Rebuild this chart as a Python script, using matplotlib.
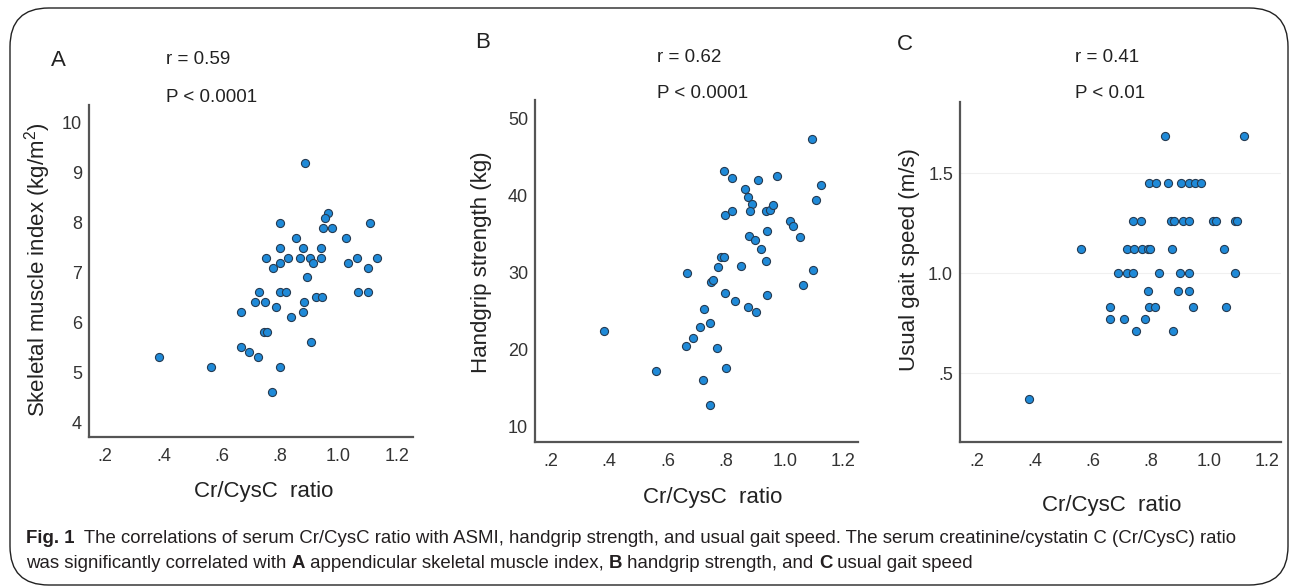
import matplotlib
matplotlib.use("Agg")
import matplotlib.pyplot as plt
from matplotlib.patches import FancyBboxPatch

W, H = 1292, 588

# ---- data ----
ratio_a = [0.884, 0.798, 0.964, 0.953, 0.945, 0.979, 1.108, 0.855, 1.027, 0.798,
           0.879, 0.941, 0.750, 0.775, 0.801, 0.826, 0.868, 0.902, 0.912, 0.941,
           1.034, 1.062, 1.101, 1.130, 0.893,
           0.727, 0.801, 0.820, 1.068, 1.101, 0.712, 0.747, 0.881, 0.924, 0.942,
           0.784, 0.667, 0.879, 0.836, 0.744, 0.756, 0.907, 0.667, 0.692, 0.725,
           0.385, 0.563, 0.799, 0.773]
smi = [9.2, 8.0, 8.2, 8.1, 7.9, 7.9, 8.0, 7.7, 7.7, 7.5,
       7.5, 7.5, 7.3, 7.1, 7.2, 7.3, 7.3, 7.3, 7.2, 7.3,
       7.2, 7.3, 7.1, 7.3, 6.9,
       6.6, 6.6, 6.6, 6.6, 6.6, 6.4, 6.4, 6.4, 6.5, 6.5,
       6.3, 6.2, 6.2, 6.1, 5.8, 5.8, 5.6, 5.5, 5.4, 5.3,
       5.3, 5.1, 5.1, 4.6]

ratio_b = [1.095, 0.791, 0.821, 0.908, 0.975, 1.124, 0.863, 0.875, 1.106, 0.888,
           0.797, 0.819, 0.881, 0.935, 0.949, 0.959, 1.019, 1.029, 1.054, 0.938,
           0.879, 0.898, 0.920, 0.782, 0.792, 0.936, 0.773, 0.851, 0.665, 1.098,
           0.747, 0.754, 1.063, 0.795, 0.939, 0.831, 0.875, 0.903, 0.723, 0.743,
           0.710, 0.687, 0.663, 0.768, 0.381, 0.560, 0.798, 0.722, 0.743]
grip = [47.4, 43.2, 42.3, 42.0, 42.6, 41.4, 40.8, 39.8, 39.4, 38.9,
        37.5, 38.0, 38.0, 38.0, 38.2, 38.8, 36.7, 36.1, 34.6, 35.4,
        34.8, 34.3, 33.1, 32.1, 32.1, 31.5, 30.8, 30.9, 30.0, 30.3,
        28.8, 29.0, 28.4, 27.4, 27.1, 26.3, 25.5, 24.9, 25.3, 23.5,
        22.9, 21.5, 20.5, 20.3, 22.5, 17.3, 17.6, 16.1, 12.9]

ratio_c = [0.847, 1.119,
           0.793, 0.818, 0.858, 0.902, 0.931, 0.951, 0.971,
           0.739, 0.764, 0.868, 0.878, 0.912, 0.931, 1.015, 1.025, 1.090, 1.098,
           0.559, 0.718, 0.741, 0.768, 0.789, 0.795, 0.871, 1.050,
           0.686, 0.718, 0.739, 0.827, 0.899, 0.931, 1.089,
           0.791, 0.893, 0.931,
           0.660, 0.793, 0.813, 0.945, 1.058,
           0.660, 0.706, 0.778,
           0.750, 0.875,
           0.381]
gait = [1.69, 1.69,
        1.45, 1.45, 1.45, 1.45, 1.45, 1.45, 1.45,
        1.26, 1.26, 1.26, 1.26, 1.26, 1.26, 1.26, 1.26, 1.26, 1.26,
        1.12, 1.12, 1.12, 1.12, 1.12, 1.12, 1.12, 1.12,
        1.0, 1.0, 1.0, 1.0, 1.0, 1.0, 1.0,
        0.91, 0.91, 0.91,
        0.83, 0.83, 0.83, 0.83, 0.83,
        0.77, 0.77, 0.77,
        0.71, 0.71,
        0.37]

x_ticks = [0.2, 0.4, 0.6, 0.8, 1.0, 1.2]
x_ticklabels = [".2", ".4", ".6", ".8", "1.0", "1.2"]
a_yticks = [4, 5, 6, 7, 8, 9, 10]
b_yticks = [10, 20, 30, 40, 50]
c_yticks = [0.5, 1.0, 1.5]
c_yticklabels = [".5", "1.0", "1.5"]

letters = ["A", "B", "C"]
r_texts = ["r = 0.59", "r = 0.62", "r = 0.41"]
p_texts = ["P < 0.0001", "P < 0.0001", "P < 0.01"]
ylabels = ["Skeletal muscle index (kg/m$^2$)", "Handgrip strength (kg)", "Usual gait speed (m/s)"]
xlabel = "Cr/CysC  ratio"

plt.rcParams["font.family"] = ["Liberation Sans", "DejaVu Sans"]
plt.rcParams["mathtext.fontset"] = "custom"
plt.rcParams["mathtext.rm"] = "Liberation Sans"

fig = plt.figure(figsize=(W / 100, H / 100), dpi=100)


def fx(x):
    return x / W


def fy(y):
    return 1 - y / H


def add_panel(left, right, top, bottom):
    return fig.add_axes([fx(left), fy(bottom), fx(right - left), (bottom - top) / H])


axes = [add_panel(89, 413, 105, 437),
        add_panel(535, 858, 100, 442),
        add_panel(960, 1281, 102, 442)]

data = [(ratio_a, smi), (ratio_b, grip), (ratio_c, gait)]
xlims = [(0.145, 1.255), (0.146, 1.251), (0.142, 1.248)]
ylims = [(3.70, 10.36), (8.05, 52.4), (0.155, 1.858)]

for ax, (xs, ys), xl, yl in zip(axes, data, xlims, ylims):
    ax.scatter(xs, ys, s=34, color="#1f8ad8", edgecolor="#253b52", linewidth=0.8, zorder=3)
    ax.set_xlim(*xl)
    ax.set_ylim(*yl)
    ax.set_xticks(x_ticks)
    ax.set_xticklabels(x_ticklabels)
    for s in ["top", "right"]:
        ax.spines[s].set_visible(False)
    for s in ["left", "bottom"]:
        ax.spines[s].set_color("#555555")
        ax.spines[s].set_linewidth(1.6)
    ax.tick_params(length=0, labelsize=13, labelcolor="#333333")
    ax.tick_params(axis="x", pad=8)
    ax.tick_params(axis="y", pad=5)

axes[0].set_yticks(a_yticks)
axes[1].set_yticks(b_yticks)
axes[2].set_yticks(c_yticks)
axes[2].set_yticklabels(c_yticklabels)
axes[2].grid(axis="y", color="#f0f0f0", linewidth=0.8)
axes[2].set_axisbelow(True)

# panel texts (pixel positions)
letter_pos = [(58, 60), (483, 42), (905, 45)]
r_pos = [(166, 60), (657, 57), (1075, 57)]
p_pos = [(166, 97), (657, 93), (1075, 93)]
xlab_pos = [(264, 492), (713, 498), (1112, 505)]
ylab_pos = [(38, 270), (482, 262), (910, 260)]

for i in range(3):
    fig.text(fx(letter_pos[i][0]), fy(letter_pos[i][1]), letters[i], fontsize=16,
             ha="center", va="center", color="#222222")
    fig.text(fx(r_pos[i][0]), fy(r_pos[i][1]), r_texts[i], fontsize=13.5,
             ha="left", va="center", color="#222222")
    fig.text(fx(p_pos[i][0]), fy(p_pos[i][1]), p_texts[i], fontsize=13.5,
             ha="left", va="center", color="#222222")
    fig.text(fx(xlab_pos[i][0]), fy(xlab_pos[i][1]), xlabel, fontsize=16,
             ha="center", va="center", color="#222222")
    fig.text(fx(ylab_pos[i][0]), fy(ylab_pos[i][1]), ylabels[i], fontsize=16,
             ha="center", va="center", rotation=90, color="#222222")

# rounded frame
frame = FancyBboxPatch((fx(10), fy(585)), fx(1278), (585 - 8) / H,
                       boxstyle="round,pad=0,rounding_size=0.03",
                       transform=fig.transFigure, fill=False,
                       edgecolor="#222222", linewidth=1.0,
                       mutation_aspect=W / H)
fig.add_artist(frame)

# caption with mixed bold pieces, all on a shared baseline
cap_ax = fig.add_axes([0, 0, 1, 1], frameon=False)
cap_ax.set_axis_off()
cap_font = dict(fontsize=13.4, color="#231f20", family=["Liberation Sans", "DejaVu Sans"])

line1 = [("Fig. 1", "bold"),
         ("  The correlations of serum Cr/CysC ratio with ASMI, handgrip strength, and usual gait speed. "
          "The serum creatinine/cystatin C (Cr/CysC) ratio", "normal")]
line2 = [("was significantly correlated with ", "normal"), ("A", "bold"),
         (" appendicular skeletal muscle index, ", "normal"), ("B", "bold"),
         (" handgrip strength, and ", "normal"), ("C", "bold"),
         (" usual gait speed", "normal")]

for pieces, ypix in [(line1, 543), (line2, 568)]:
    prev = None
    for txt, wt in pieces:
        if prev is None:
            prev = cap_ax.text(fx(26), fy(ypix), txt, weight=wt, ha="left", va="baseline",
                               transform=fig.transFigure, **cap_font)
        else:
            prev = cap_ax.annotate(txt, xy=(1, fy(ypix)), xycoords=(prev, "figure fraction"),
                                   weight=wt, ha="left", va="baseline", **cap_font)

fig.savefig("out.png", dpi=100)
